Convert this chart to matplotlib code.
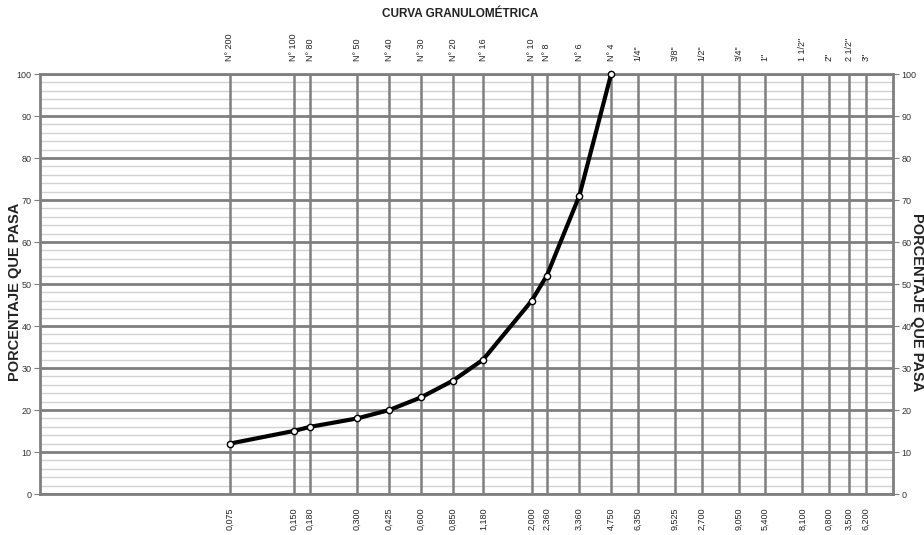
import matplotlib
matplotlib.use("Agg")
import matplotlib.pyplot as plt
from matplotlib import font_manager

# datos de la curva
aberturas = [0.075, 0.150, 0.180, 0.300, 0.425, 0.600, 0.850, 1.180, 2.000, 2.360, 3.360, 4.750]
pasa = [12, 15, 16, 18, 20, 23, 27, 32, 46, 52, 71, 100]

# tamices (posicion en mm, nombre arriba, texto abajo)
tamices_mm = [0.075, 0.150, 0.180, 0.300, 0.425, 0.600, 0.850, 1.180, 2.000, 2.360, 3.360, 4.750,
              6.350, 9.525, 12.700, 19.050, 25.400, 38.100, 50.800, 63.500, 76.200]
nombres = ["N° 200", "N° 100", "N° 80", "N° 50", "N° 40", "N° 30", "N° 20", "N° 16", "N° 10", "N° 8",
           "N° 6", "N° 4", "1/4\"", "3/8\"", "1/2\"", "3/4\"", "1\"", "1 1/2\"", "2\"", "2 1/2\"", "3\""]
etiquetas_abajo = ["0,075", "0,150", "0,180", "0,300", "0,425", "0,600", "0,850", "1,180", "2,000", "2,360",
                   "3,360", "4,750", "6,350", "9,525", "2,700", "9,050", "5,400", "8,100", "0,800", "3,500", "6,200"]

fuentes = {f.name for f in font_manager.fontManager.ttflist}
narrow = "Liberation Sans Narrow" if "Liberation Sans Narrow" in fuentes else "Liberation Sans"
plt.rcParams['font.family'] = [narrow, 'DejaVu Sans']

fig = plt.figure(figsize=(9.24, 5.35), dpi=100)
ax = fig.add_axes([40 / 924, 41 / 535, 853 / 924, 420 / 535])
ax.set_xscale("log")
ax.set_xlim(0.0095, 102)
ax.set_ylim(0, 100)

# rejilla horizontal
for y in range(0, 101, 2):
    if y % 10 == 0:
        ax.axhline(y, color="#7f7f7f", lw=2.0, zorder=1)
    else:
        ax.axhline(y, color="#d2d2d2", lw=1.0, zorder=0)
# lineas verticales de tamices
for x in tamices_mm:
    ax.axvline(x, color="#7f7f7f", lw=1.8, zorder=1)

ax.plot(aberturas, pasa, color="black", lw=3, marker="o", ms=4.5,
        mfc="white", mec="black", mew=1.0, zorder=5, clip_on=False)

for s in ax.spines.values():
    s.set_color("#7f7f7f")
    s.set_linewidth(2)

ax.set_xticks([])
ax.minorticks_off()
ax.set_yticks(range(0, 101, 10))
ax.tick_params(axis="y", left=True, right=True, labelleft=True, labelright=True,
               length=4, color="#7f7f7f", labelsize=6.5, labelcolor="#333333", pad=2)
ax.tick_params(axis="x", which="both", bottom=False, top=False)

for x, n, b in zip(tamices_mm, nombres, etiquetas_abajo):
    ax.text(x, 103, n, rotation=90, ha="center", va="bottom", fontsize=6.5, color="#222222")
    ax.text(x, -3.3, b, rotation=90, ha="center", va="top", fontsize=6.5, color="#222222")

fig.text(460 / 924, 1 - 14 / 535, "CURVA GRANULOMÉTRICA", ha="center", va="center",
         fontsize=8.5, fontweight="bold", color="#222222")
fig.text(15 / 924, 1 - 292 / 535, "PORCENTAJE QUE PASA", rotation=90, ha="center", va="center",
         fontsize=10.5, fontweight="bold", family=["Liberation Sans", "DejaVu Sans"], color="#222222")
fig.text(917 / 924, 1 - 302 / 535, "PORCENTAJE QUE PASA", rotation=270, ha="center", va="center",
         fontsize=10.5, fontweight="bold", family=["Liberation Sans", "DejaVu Sans"], color="#222222")

fig.savefig("out.png", dpi=100)
